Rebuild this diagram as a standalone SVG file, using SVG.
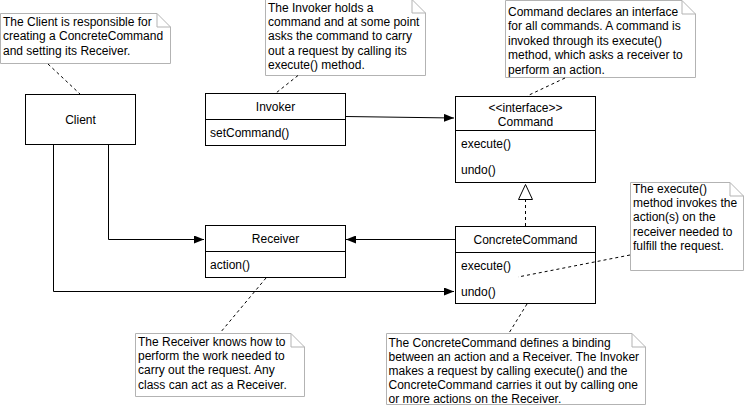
<svg xmlns="http://www.w3.org/2000/svg" width="745" height="405" viewBox="0 0 745 405">
<defs>
<style>
text{font-family:"Liberation Sans",Arial,sans-serif;font-size:12px;fill:#000}
.c{text-anchor:middle}
.box{fill:#fff;stroke:#000;stroke-width:1}
.note{fill:#fff;stroke:#b3b3b3;stroke-width:1}
.fold{fill:none;stroke:#b3b3b3;stroke-width:1}
.edge{fill:none;stroke:#000;stroke-width:1}
.dash{fill:none;stroke:#000;stroke-width:1;stroke-dasharray:3 3}
</style>
<marker id="arr" viewBox="0 0 10 8" refX="10" refY="4" markerWidth="10" markerHeight="8" markerUnits="userSpaceOnUse" orient="auto">
<path d="M0,0 L10,4 L0,8 Z" fill="#000"/>
</marker>
</defs>
<rect width="745" height="405" fill="#fff"/>
<g id="client">
<rect class="box" x="25.5" y="94.5" width="110" height="50"/>
<text class="c" x="80.5" y="123.5">Client</text>
</g>
<g id="invoker">
<rect class="box" x="205.5" y="93.5" width="140" height="52"/>
<line class="box" x1="205.5" y1="119.5" x2="345.5" y2="119.5"/>
<text class="c" x="275.5" y="110.5">Invoker</text>
<text x="210" y="136.5">setCommand()</text>
</g>
<g id="command">
<rect class="box" x="455.5" y="96.5" width="140" height="86"/>
<line class="box" x1="455.5" y1="130.5" x2="595.5" y2="130.5"/>
<text class="c" x="525.5" y="111.5">&lt;&lt;interface&gt;&gt;</text>
<text class="c" x="525.5" y="126">Command</text>
<text x="461" y="147.5">execute()</text>
<text x="461" y="173.5">undo()</text>
</g>
<g id="receiver">
<rect class="box" x="205.5" y="225.5" width="140" height="52"/>
<line class="box" x1="205.5" y1="251.5" x2="345.5" y2="251.5"/>
<text class="c" x="275.5" y="242.5">Receiver</text>
<text x="210" y="268.5">action()</text>
</g>
<g id="concretecommand">
<rect class="box" x="455.5" y="226.5" width="140" height="77"/>
<line class="box" x1="455.5" y1="252.5" x2="595.5" y2="252.5"/>
<text class="c" x="525.5" y="243.5">ConcreteCommand</text>
<text x="461" y="269.5">execute()</text>
<text x="461" y="295.5">undo()</text>
</g>
<g id="note-client">
<path class="note" d="M0.5,13.5 H157 L170.5,27 V63.5 H0.5 Z"/>
<path class="fold" d="M157,13.5 V27 H170.5"/>
<text x="3" y="26">The Client is responsible for</text>
<text x="3" y="40.4">creating a ConcreteCommand</text>
<text x="3" y="54.8">and setting its Receiver.</text>
</g>
<g id="note-invoker">
<path class="note" d="M265.5,-0.5 H412 L425.5,13 V75.5 H265.5 Z"/>
<path class="fold" d="M412,-0.5 V13 H425.5"/>
<text x="268" y="11.5">The Invoker holds a</text>
<text x="268" y="25.9">command and at some point</text>
<text x="268" y="40.3">asks the command to carry</text>
<text x="268" y="54.7">out a request by calling its</text>
<text x="268" y="69.1">execute() method.</text>
</g>
<g id="note-command">
<path class="note" d="M505.5,0.5 H682 L695.5,14 V77.5 H505.5 Z"/>
<path class="fold" d="M682,0.5 V14 H695.5"/>
<text x="508" y="16">Command declares an interface</text>
<text x="508" y="30.4">for all commands. A command is</text>
<text x="508" y="44.8">invoked through its execute()</text>
<text x="508" y="59.2">method, which asks a receiver to</text>
<text x="508" y="73.6">perform an action.</text>
</g>
<g id="note-execute">
<path class="note" d="M630.5,182.5 H730 L743.5,196 V270.5 H630.5 Z"/>
<path class="fold" d="M730,182.5 V196 H743.5"/>
<text x="633" y="192.5">The execute()</text>
<text x="633" y="206.9">method invokes the</text>
<text x="633" y="221.3">action(s) on the</text>
<text x="633" y="235.7">receiver needed to</text>
<text x="633" y="250.1">fulfill the request.</text>
</g>
<g id="note-receiver">
<path class="note" d="M135.5,333.5 H291 L304.5,347 V396.5 H135.5 Z"/>
<path class="fold" d="M291,333.5 V347 H304.5"/>
<text x="138" y="346">The Receiver knows how to</text>
<text x="138" y="360.2">perform the work needed to</text>
<text x="138" y="374.4">carry out the request. Any</text>
<text x="138" y="388.6">class can act as a Receiver.</text>
</g>
<g id="note-concretecommand">
<path class="note" d="M386.5,333.5 H632 L645.5,347 V404.5 H386.5 Z"/>
<path class="fold" d="M632,333.5 V347 H645.5"/>
<text x="388.5" y="347">The ConcreteCommand defines a binding</text>
<text x="388.5" y="361">between an action and a Receiver. The Invoker</text>
<text x="388.5" y="375">makes a request by calling execute() and the</text>
<text x="388.5" y="389">ConcreteCommand carries it out by calling one</text>
<text x="388.5" y="403">or more actions on the Receiver.</text>
</g>
<g id="connectors">
<path class="edge" d="M345.5,116.5 L454,118" marker-end="url(#arr)"/>
<path class="edge" d="M108.5,144.5 V239.5 H204" marker-end="url(#arr)"/>
<path class="edge" d="M53.5,144.5 V291.5 H454" marker-end="url(#arr)"/>
<path class="edge" d="M455,239.5 H346" marker-end="url(#arr)"/>
<path class="dash" d="M525.5,226 V199.5"/>
<path d="M525.5,184.5 L532.5,199.5 L518.5,199.5 Z" fill="#fff" stroke="#000"/>
<path class="dash" d="M48,64 L80,94"/>
<path class="dash" d="M298,75.5 L276,93"/>
<path class="dash" d="M565,78 L527,96"/>
<path class="dash" d="M630,255 L518,277"/>
<path class="dash" d="M266,278 L220,333"/>
<path class="dash" d="M527,304 L509,333"/>
</g>
</svg>
